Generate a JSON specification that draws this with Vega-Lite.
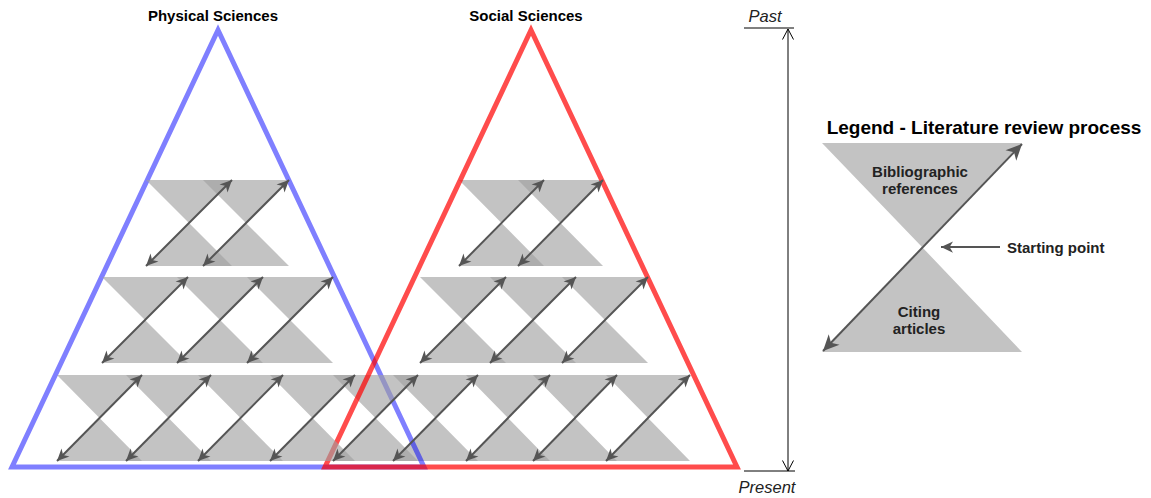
{
  "$schema": "https://vega.github.io/schema/vega-lite/v6.json",
  "width": 1151,
  "height": 498,
  "autosize": {"type": "none"},
  "padding": 0,
  "background": "white",
  "config": {"view": {"stroke": null}},
  "datasets": {
    "hg": [
      {"g": "P1a", "x": 146, "x2": 232, "y": 180}, {"g": "P1a", "x": 189, "x2": 189, "y": 223}, {"g": "P1a", "x": 146, "x2": 232, "y": 266},
      {"g": "P1b", "x": 203, "x2": 289, "y": 180}, {"g": "P1b", "x": 246, "x2": 246, "y": 223}, {"g": "P1b", "x": 203, "x2": 289, "y": 266},
      {"g": "P2a", "x": 102, "x2": 188, "y": 277}, {"g": "P2a", "x": 145, "x2": 145, "y": 320}, {"g": "P2a", "x": 102, "x2": 188, "y": 363},
      {"g": "P2b", "x": 177, "x2": 263, "y": 277}, {"g": "P2b", "x": 220, "x2": 220, "y": 320}, {"g": "P2b", "x": 177, "x2": 263, "y": 363},
      {"g": "P2c", "x": 247, "x2": 333, "y": 277}, {"g": "P2c", "x": 290, "x2": 290, "y": 320}, {"g": "P2c", "x": 247, "x2": 333, "y": 363},
      {"g": "P3a", "x": 57, "x2": 142, "y": 375}, {"g": "P3a", "x": 99.5, "x2": 99.5, "y": 418}, {"g": "P3a", "x": 57, "x2": 142, "y": 461},
      {"g": "P3b", "x": 126, "x2": 211, "y": 375}, {"g": "P3b", "x": 168.5, "x2": 168.5, "y": 418}, {"g": "P3b", "x": 126, "x2": 211, "y": 461},
      {"g": "P3c", "x": 198, "x2": 283, "y": 375}, {"g": "P3c", "x": 240.5, "x2": 240.5, "y": 418}, {"g": "P3c", "x": 198, "x2": 283, "y": 461},
      {"g": "P3d", "x": 270, "x2": 355, "y": 375}, {"g": "P3d", "x": 312.5, "x2": 312.5, "y": 418}, {"g": "P3d", "x": 270, "x2": 355, "y": 461},
      {"g": "S1a", "x": 459, "x2": 544, "y": 180}, {"g": "S1a", "x": 501.5, "x2": 501.5, "y": 223}, {"g": "S1a", "x": 459, "x2": 544, "y": 266},
      {"g": "S1b", "x": 518, "x2": 603, "y": 180}, {"g": "S1b", "x": 560.5, "x2": 560.5, "y": 223}, {"g": "S1b", "x": 518, "x2": 603, "y": 266},
      {"g": "S2a", "x": 420, "x2": 506, "y": 277}, {"g": "S2a", "x": 463, "x2": 463, "y": 320}, {"g": "S2a", "x": 420, "x2": 506, "y": 363},
      {"g": "S2b", "x": 490, "x2": 576, "y": 277}, {"g": "S2b", "x": 533, "x2": 533, "y": 320}, {"g": "S2b", "x": 490, "x2": 576, "y": 363},
      {"g": "S2c", "x": 562, "x2": 648, "y": 277}, {"g": "S2c", "x": 605, "x2": 605, "y": 320}, {"g": "S2c", "x": 562, "x2": 648, "y": 363},
      {"g": "S3a", "x": 333, "x2": 418, "y": 375}, {"g": "S3a", "x": 375.5, "x2": 375.5, "y": 418}, {"g": "S3a", "x": 333, "x2": 418, "y": 461},
      {"g": "S3b", "x": 393, "x2": 478, "y": 375}, {"g": "S3b", "x": 435.5, "x2": 435.5, "y": 418}, {"g": "S3b", "x": 393, "x2": 478, "y": 461},
      {"g": "S3c", "x": 466, "x2": 550, "y": 375}, {"g": "S3c", "x": 508, "x2": 508, "y": 418}, {"g": "S3c", "x": 466, "x2": 550, "y": 461},
      {"g": "S3d", "x": 533, "x2": 617, "y": 375}, {"g": "S3d", "x": 575, "x2": 575, "y": 418}, {"g": "S3d", "x": 533, "x2": 617, "y": 461},
      {"g": "S3e", "x": 606, "x2": 690, "y": 375}, {"g": "S3e", "x": 648, "x2": 648, "y": 418}, {"g": "S3e", "x": 606, "x2": 690, "y": 461},
      {"g": "L", "x": 822, "x2": 1022, "y": 143}, {"g": "L", "x": 922, "x2": 922, "y": 247}, {"g": "L", "x": 822, "x2": 1022, "y": 352}
    ],
    "tri": [
      {"t": "P", "o": 0, "x": 218, "y": 467}, {"t": "P", "o": 1, "x": 424, "y": 467}, {"t": "P", "o": 2, "x": 218, "y": 30}, {"t": "P", "o": 3, "x": 12, "y": 467}, {"t": "P", "o": 4, "x": 218, "y": 467},
      {"t": "S", "o": 0, "x": 531, "y": 467}, {"t": "S", "o": 1, "x": 737, "y": 467}, {"t": "S", "o": 2, "x": 531, "y": 30}, {"t": "S", "o": 3, "x": 325, "y": 467}, {"t": "S", "o": 4, "x": 531, "y": 467}
    ],
    "ar": [
      {"x": 146, "y": 266, "x2": 232, "y2": 180}, {"x": 203, "y": 266, "x2": 289, "y2": 180},
      {"x": 102, "y": 363, "x2": 188, "y2": 277}, {"x": 177, "y": 363, "x2": 263, "y2": 277}, {"x": 247, "y": 363, "x2": 333, "y2": 277},
      {"x": 57, "y": 461, "x2": 142, "y2": 375}, {"x": 126, "y": 461, "x2": 211, "y2": 375}, {"x": 198, "y": 461, "x2": 283, "y2": 375}, {"x": 270, "y": 461, "x2": 355, "y2": 375},
      {"x": 459, "y": 266, "x2": 544, "y2": 180}, {"x": 518, "y": 266, "x2": 603, "y2": 180},
      {"x": 420, "y": 363, "x2": 506, "y2": 277}, {"x": 490, "y": 363, "x2": 576, "y2": 277}, {"x": 562, "y": 363, "x2": 648, "y2": 277},
      {"x": 333, "y": 461, "x2": 418, "y2": 375}, {"x": 393, "y": 461, "x2": 478, "y2": 375}, {"x": 466, "y": 461, "x2": 550, "y2": 375}, {"x": 533, "y": 461, "x2": 617, "y2": 375}, {"x": 606, "y": 461, "x2": 690, "y2": 375}
    ],
    "lar": [{"x": 823, "y": 351, "x2": 1022, "y2": 144}],
    "sp": [{"x": 1000, "x2": 941, "y": 247}],
    "tv": [{"x": 788, "y": 29, "y2": 471}],
    "th": [{"x": 744, "x2": 794, "y": 28}, {"x": 744, "x2": 795, "y": 471}],
    "tx": [
      {"text": "Physical Sciences", "x": 213, "y": 21, "k": "head"},
      {"text": "Social Sciences", "x": 526, "y": 21, "k": "head"},
      {"text": "Past", "x": 765, "y": 22, "k": "time"},
      {"text": "Present", "x": 767, "y": 493, "k": "time"},
      {"text": "Legend - Literature review process", "x": 984, "y": 134, "k": "title"},
      {"text": "Bibliographic", "x": 920, "y": 177, "k": "leg"},
      {"text": "references", "x": 920, "y": 194, "k": "leg"},
      {"text": "Citing", "x": 919, "y": 317, "k": "leg"},
      {"text": "articles", "x": 919, "y": 334, "k": "leg"},
      {"text": "Starting point", "x": 1007, "y": 253, "k": "start"}
    ]
  },
  "layer": [
    {
      "data": {"name": "hg"},
      "transform": [{"filter": {"field": "g", "oneOf": ["S1a", "S1b", "S2a", "S2b", "S2c", "S3b", "S3c", "S3d", "S3e"]}}],
      "mark": {"type": "area", "orient": "horizontal", "color": "#a0a0a0", "opacity": 0.63},
      "encoding": {
        "y": {"field": "y", "type": "quantitative", "scale": {"domain": [0, 498], "nice": false, "zero": false, "reverse": true}, "axis": null},
        "x": {"field": "x", "type": "quantitative", "scale": {"domain": [0, 1151], "nice": false, "zero": false}, "axis": null},
        "x2": {"field": "x2"},
        "detail": {"field": "g"}
      }
    },
    {
      "data": {"name": "tri"},
      "transform": [{"filter": "datum.t === 'P'"}],
      "mark": {"type": "line", "color": "#0000ff", "strokeOpacity": 0.5, "strokeWidth": 5, "strokeJoin": "miter"},
      "encoding": {
        "x": {"field": "x", "type": "quantitative", "scale": {"domain": [0, 1151], "nice": false, "zero": false}, "axis": null},
        "y": {"field": "y", "type": "quantitative", "scale": {"domain": [0, 498], "nice": false, "zero": false, "reverse": true}, "axis": null},
        "order": {"field": "o"}
      }
    },
    {
      "data": {"name": "hg"},
      "transform": [{"filter": {"field": "g", "oneOf": ["S3a"]}}],
      "mark": {"type": "area", "orient": "horizontal", "color": "#a0a0a0", "opacity": 0.63},
      "encoding": {
        "y": {"field": "y", "type": "quantitative", "scale": {"domain": [0, 498], "nice": false, "zero": false, "reverse": true}, "axis": null},
        "x": {"field": "x", "type": "quantitative", "scale": {"domain": [0, 1151], "nice": false, "zero": false}, "axis": null},
        "x2": {"field": "x2"},
        "detail": {"field": "g"}
      }
    },
    {
      "data": {"name": "tri"},
      "transform": [{"filter": "datum.t === 'S'"}],
      "mark": {"type": "line", "color": "#ff0000", "strokeOpacity": 0.7, "strokeWidth": 5, "strokeJoin": "miter"},
      "encoding": {
        "x": {"field": "x", "type": "quantitative", "scale": {"domain": [0, 1151], "nice": false, "zero": false}, "axis": null},
        "y": {"field": "y", "type": "quantitative", "scale": {"domain": [0, 498], "nice": false, "zero": false, "reverse": true}, "axis": null},
        "order": {"field": "o"}
      }
    },
    {
      "data": {"name": "hg"},
      "transform": [{"filter": {"field": "g", "oneOf": ["P1a", "P1b", "P2a", "P2b", "P2c", "P3a", "P3b", "P3c", "P3d", "L"]}}],
      "mark": {"type": "area", "orient": "horizontal", "color": "#a0a0a0", "opacity": 0.63},
      "encoding": {
        "y": {"field": "y", "type": "quantitative", "scale": {"domain": [0, 498], "nice": false, "zero": false, "reverse": true}, "axis": null},
        "x": {"field": "x", "type": "quantitative", "scale": {"domain": [0, 1151], "nice": false, "zero": false}, "axis": null},
        "x2": {"field": "x2"},
        "detail": {"field": "g"}
      }
    },
    {
      "data": {"name": "ar"},
      "mark": {"type": "rule", "color": "#555555", "strokeWidth": 2},
      "encoding": {
        "x": {"field": "x", "type": "quantitative", "scale": {"domain": [0, 1151], "nice": false, "zero": false}, "axis": null},
        "y": {"field": "y", "type": "quantitative", "scale": {"domain": [0, 498], "nice": false, "zero": false, "reverse": true}, "axis": null},
        "x2": {"field": "x2"},
        "y2": {"field": "y2"}
      }
    },
    {
      "data": {"name": "ar"},
      "mark": {"type": "point", "shape": "M0,0L0.75,1.6L0,1.15L-0.75,1.6Z", "filled": true, "color": "#555555", "opacity": 1, "size": 225, "angle": 45, "strokeWidth": 0},
      "encoding": {
        "x": {"field": "x2", "type": "quantitative", "scale": {"domain": [0, 1151], "nice": false, "zero": false}, "axis": null},
        "y": {"field": "y2", "type": "quantitative", "scale": {"domain": [0, 498], "nice": false, "zero": false, "reverse": true}, "axis": null}
      }
    },
    {
      "data": {"name": "ar"},
      "mark": {"type": "point", "shape": "M0,0L0.75,1.6L0,1.15L-0.75,1.6Z", "filled": true, "color": "#555555", "opacity": 1, "size": 225, "angle": 225, "strokeWidth": 0},
      "encoding": {
        "x": {"field": "x", "type": "quantitative", "scale": {"domain": [0, 1151], "nice": false, "zero": false}, "axis": null},
        "y": {"field": "y", "type": "quantitative", "scale": {"domain": [0, 498], "nice": false, "zero": false, "reverse": true}, "axis": null}
      }
    },
    {
      "data": {"name": "lar"},
      "mark": {"type": "rule", "color": "#555555", "strokeWidth": 2},
      "encoding": {
        "x": {"field": "x", "type": "quantitative", "scale": {"domain": [0, 1151], "nice": false, "zero": false}, "axis": null},
        "y": {"field": "y", "type": "quantitative", "scale": {"domain": [0, 498], "nice": false, "zero": false, "reverse": true}, "axis": null},
        "x2": {"field": "x2"},
        "y2": {"field": "y2"}
      }
    },
    {
      "data": {"name": "lar"},
      "mark": {"type": "point", "shape": "M0,0L0.75,1.6L0,1.15L-0.75,1.6Z", "filled": true, "color": "#555555", "opacity": 1, "size": 400, "angle": 44, "strokeWidth": 0},
      "encoding": {
        "x": {"field": "x2", "type": "quantitative", "scale": {"domain": [0, 1151], "nice": false, "zero": false}, "axis": null},
        "y": {"field": "y2", "type": "quantitative", "scale": {"domain": [0, 498], "nice": false, "zero": false, "reverse": true}, "axis": null}
      }
    },
    {
      "data": {"name": "lar"},
      "mark": {"type": "point", "shape": "M0,0L0.75,1.6L0,1.15L-0.75,1.6Z", "filled": true, "color": "#555555", "opacity": 1, "size": 400, "angle": 224, "strokeWidth": 0},
      "encoding": {
        "x": {"field": "x", "type": "quantitative", "scale": {"domain": [0, 1151], "nice": false, "zero": false}, "axis": null},
        "y": {"field": "y", "type": "quantitative", "scale": {"domain": [0, 498], "nice": false, "zero": false, "reverse": true}, "axis": null}
      }
    },
    {
      "data": {"name": "sp"},
      "mark": {"type": "rule", "color": "#555555", "strokeWidth": 2},
      "encoding": {
        "x": {"field": "x", "type": "quantitative", "scale": {"domain": [0, 1151], "nice": false, "zero": false}, "axis": null},
        "x2": {"field": "x2"},
        "y": {"field": "y", "type": "quantitative", "scale": {"domain": [0, 498], "nice": false, "zero": false, "reverse": true}, "axis": null}
      }
    },
    {
      "data": {"name": "sp"},
      "mark": {"type": "point", "shape": "M0,0L0.75,1.6L0,1.15L-0.75,1.6Z", "filled": true, "color": "#555555", "opacity": 1, "size": 225, "angle": 270, "strokeWidth": 0},
      "encoding": {
        "x": {"field": "x2", "type": "quantitative", "scale": {"domain": [0, 1151], "nice": false, "zero": false}, "axis": null},
        "y": {"field": "y", "type": "quantitative", "scale": {"domain": [0, 498], "nice": false, "zero": false, "reverse": true}, "axis": null}
      }
    },
    {
      "data": {"name": "tv"},
      "mark": {"type": "rule", "color": "#000000", "strokeWidth": 1},
      "encoding": {
        "x": {"field": "x", "type": "quantitative", "scale": {"domain": [0, 1151], "nice": false, "zero": false}, "axis": null},
        "y": {"field": "y", "type": "quantitative", "scale": {"domain": [0, 498], "nice": false, "zero": false, "reverse": true}, "axis": null},
        "y2": {"field": "y2"}
      }
    },
    {
      "data": {"name": "th"},
      "mark": {"type": "rule", "color": "#000000", "strokeWidth": 1},
      "encoding": {
        "x": {"field": "x", "type": "quantitative", "scale": {"domain": [0, 1151], "nice": false, "zero": false}, "axis": null},
        "x2": {"field": "x2"},
        "y": {"field": "y", "type": "quantitative", "scale": {"domain": [0, 498], "nice": false, "zero": false, "reverse": true}, "axis": null}
      }
    },
    {
      "data": {"name": "tv"},
      "mark": {"type": "point", "shape": "M-0.55,1.05L0,0L0.55,1.05", "filled": false, "color": "#000000", "opacity": 1, "size": 400, "angle": 0, "strokeWidth": 1},
      "encoding": {
        "x": {"field": "x", "type": "quantitative", "scale": {"domain": [0, 1151], "nice": false, "zero": false}, "axis": null},
        "y": {"field": "y", "type": "quantitative", "scale": {"domain": [0, 498], "nice": false, "zero": false, "reverse": true}, "axis": null}
      }
    },
    {
      "data": {"name": "tv"},
      "mark": {"type": "point", "shape": "M-0.55,1.05L0,0L0.55,1.05", "filled": false, "color": "#000000", "opacity": 1, "size": 400, "angle": 180, "strokeWidth": 1},
      "encoding": {
        "x": {"field": "x", "type": "quantitative", "scale": {"domain": [0, 1151], "nice": false, "zero": false}, "axis": null},
        "y": {"field": "y2", "type": "quantitative", "scale": {"domain": [0, 498], "nice": false, "zero": false, "reverse": true}, "axis": null}
      }
    },
    {
      "data": {"name": "tx"},
      "transform": [{"filter": "datum.k === 'head'"}],
      "mark": {"type": "text", "font": "Liberation Sans", "fontWeight": "bold", "fontSize": 15, "align": "center", "baseline": "alphabetic", "color": "#000000"},
      "encoding": {
        "x": {"field": "x", "type": "quantitative", "scale": {"domain": [0, 1151], "nice": false, "zero": false}, "axis": null},
        "y": {"field": "y", "type": "quantitative", "scale": {"domain": [0, 498], "nice": false, "zero": false, "reverse": true}, "axis": null},
        "text": {"field": "text"}
      }
    },
    {
      "data": {"name": "tx"},
      "transform": [{"filter": "datum.k === 'time'"}],
      "mark": {"type": "text", "font": "Liberation Sans", "fontStyle": "italic", "fontSize": 16.5, "align": "center", "baseline": "alphabetic", "color": "#222222"},
      "encoding": {
        "x": {"field": "x", "type": "quantitative", "scale": {"domain": [0, 1151], "nice": false, "zero": false}, "axis": null},
        "y": {"field": "y", "type": "quantitative", "scale": {"domain": [0, 498], "nice": false, "zero": false, "reverse": true}, "axis": null},
        "text": {"field": "text"}
      }
    },
    {
      "data": {"name": "tx"},
      "transform": [{"filter": "datum.k === 'title'"}],
      "mark": {"type": "text", "font": "Liberation Sans", "fontWeight": "bold", "fontSize": 19, "align": "center", "baseline": "alphabetic", "color": "#000000"},
      "encoding": {
        "x": {"field": "x", "type": "quantitative", "scale": {"domain": [0, 1151], "nice": false, "zero": false}, "axis": null},
        "y": {"field": "y", "type": "quantitative", "scale": {"domain": [0, 498], "nice": false, "zero": false, "reverse": true}, "axis": null},
        "text": {"field": "text"}
      }
    },
    {
      "data": {"name": "tx"},
      "transform": [{"filter": "datum.k === 'leg'"}],
      "mark": {"type": "text", "font": "Liberation Sans", "fontWeight": "bold", "fontSize": 15, "align": "center", "baseline": "alphabetic", "color": "#222222"},
      "encoding": {
        "x": {"field": "x", "type": "quantitative", "scale": {"domain": [0, 1151], "nice": false, "zero": false}, "axis": null},
        "y": {"field": "y", "type": "quantitative", "scale": {"domain": [0, 498], "nice": false, "zero": false, "reverse": true}, "axis": null},
        "text": {"field": "text"}
      }
    },
    {
      "data": {"name": "tx"},
      "transform": [{"filter": "datum.k === 'start'"}],
      "mark": {"type": "text", "font": "Liberation Sans", "fontWeight": "bold", "fontSize": 15, "align": "left", "baseline": "alphabetic", "color": "#222222"},
      "encoding": {
        "x": {"field": "x", "type": "quantitative", "scale": {"domain": [0, 1151], "nice": false, "zero": false}, "axis": null},
        "y": {"field": "y", "type": "quantitative", "scale": {"domain": [0, 498], "nice": false, "zero": false, "reverse": true}, "axis": null},
        "text": {"field": "text"}
      }
    }
  ]
}
